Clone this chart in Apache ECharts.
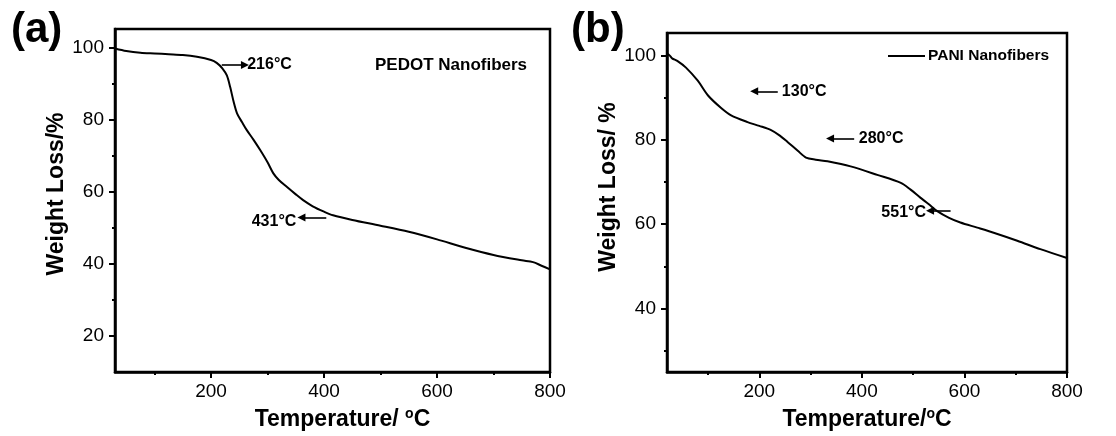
<!DOCTYPE html>
<html>
<head>
<meta charset="utf-8">
<script src="https://cdn.jsdelivr.net/npm/echarts@6/dist/echarts.min.js"></script>
<style>html,body{margin:0;padding:0;background:#fff}#c{width:1116px;height:436px}</style>
</head>
<body>
<div id="c"></div>
<script>
// ---- Data ----
const tempA = [30, 50, 75, 100, 125, 150, 175, 200, 210, 220, 228, 234, 240, 246, 255, 263, 275, 287, 300, 310, 320, 334, 350, 363, 380, 400, 416, 450, 500, 550, 600, 650, 700, 750, 770, 785, 800];
const weightA = [99.8, 99.1, 98.6, 98.4, 98.2, 98.0, 97.5, 96.6, 95.8, 94.3, 92.3, 89.0, 85.0, 81.8, 79.3, 77.2, 74.5, 71.6, 68.2, 65.2, 63.3, 61.4, 59.3, 57.7, 56.0, 54.5, 53.5, 52.2, 50.6, 48.9, 46.8, 44.5, 42.5, 41.0, 40.5, 39.5, 38.5];

const tempB = [20, 25, 30, 40, 57, 80, 100, 125, 145, 177, 200, 223, 240, 255, 275, 291, 310, 333, 378, 430, 476, 495, 514, 530, 547, 570, 592, 625, 657, 703, 748, 800];
const weightB = [100.4, 100.0, 99.3, 98.7, 97.1, 94.0, 90.5, 87.6, 85.8, 84.2, 83.3, 82.3, 81.0, 79.5, 77.4, 75.8, 75.3, 74.9, 73.7, 71.7, 69.8, 68.2, 66.3, 64.8, 63.1, 61.5, 60.4, 59.2, 58.0, 56.1, 54.1, 52.0];

const seriesNameA = 'PEDOT Nanofibers';
const seriesNameB = 'PANI Nanofibers';

// tick values
const xMajorTicks = [200, 400, 600, 800];
const xMinorTicks = [100, 300, 500, 700];
const yMajorTicksA = [20, 40, 60, 80, 100];
const yMinorTicksA = [30, 50, 70, 90];
const yMajorTicksB = [40, 60, 80, 100];
const yMinorTicksB = [30, 50, 70, 90];

// annotations: text (start point in data coords) and arrows (from -> to, data coords)
const annotTextA = ['216°C', '431°C'];
const annotTextXA = [264, 272];
const annotTextYA = [95.2, 51.7];
const arrowsA = [[[219, 95.2], [260, 95.2]], [[404, 52.9], [360, 52.9]]];

const annotTextB = ['130°C', '280°C', '551°C'];
const annotTextXB = [244, 394, 438];
const annotTextYB = [91.5, 80.3, 62.7];
const arrowsB = [[[236, 91.5], [190, 91.5]], [[385, 80.3], [338, 80.3]], [[573, 63.2], [533, 63.2]]];

// ---- Chart ----
const FONT = 'Liberation Sans, Arial, Helvetica, sans-serif';
const chart = echarts.init(document.getElementById('c'), null, {renderer: 'canvas'});

function majorX(grid, min, name, padLeft) {
  return {
    gridIndex: grid, type: 'value', min: min, max: 800, position: 'bottom',
    axisLine: {show: true, lineStyle: {color: '#000', width: 2.5}},
    axisTick: {show: true, customValues: xMajorTicks, length: 6, inside: false, lineStyle: {color: '#000', width: 2}},
    axisLabel: {show: true, customValues: xMajorTicks, fontSize: 19, color: '#000', margin: 10, fontFamily: FONT},
    splitLine: {show: false},
    name: name, nameLocation: 'middle', nameGap: 35,
    nameTextStyle: {fontSize: 23, fontWeight: 'bold', color: '#000', fontFamily: FONT, padding: [0, 0, 0, padLeft],
      rich: {
        n: {fontSize: 23, fontWeight: 'bold', color: '#000', fontFamily: FONT},
        sup: {fontSize: 14, fontWeight: 'bold', color: '#000', fontFamily: FONT, padding: [0, 0, 11, 0]}
      }}
  };
}
function minorX(grid, min) {
  return {
    gridIndex: grid, type: 'value', min: min, max: 800, position: 'bottom',
    axisLine: {show: false},
    axisTick: {show: true, customValues: xMinorTicks, length: 3, inside: false, lineStyle: {color: '#000', width: 2}},
    axisLabel: {show: false}, splitLine: {show: false}
  };
}
function majorY(grid, min, max, ticks, name, padLeft) {
  return {
    gridIndex: grid, type: 'value', min: min, max: max, position: 'left',
    axisLine: {show: true, lineStyle: {color: '#000', width: 2.5}},
    axisTick: {show: true, customValues: ticks, length: 6, inside: false, lineStyle: {color: '#000', width: 2}},
    axisLabel: {show: true, customValues: ticks, fontSize: 19, color: '#000', margin: 11, fontFamily: FONT},
    splitLine: {show: false},
    name: name, nameLocation: 'middle', nameGap: 40, nameRotate: 90,
    nameTextStyle: {fontSize: 23, fontWeight: 'bold', color: '#000', fontFamily: FONT, padding: [0, 0, 0, padLeft]}
  };
}
function minorY(grid, min, max, ticks) {
  return {
    gridIndex: grid, type: 'value', min: min, max: max, position: 'left',
    axisLine: {show: false},
    axisTick: {show: true, customValues: ticks, length: 3, inside: false, lineStyle: {color: '#000', width: 2}},
    axisLabel: {show: false}, splitLine: {show: false}
  };
}
function arrowMarkLine(arrows) {
  return {
    silent: true, animation: false,
    symbol: ['none', 'triangle'], symbolSize: [8, 8],
    lineStyle: {color: '#000', width: 1.6, type: 'solid', opacity: 1},
    itemStyle: {color: '#000'},
    label: {show: false},
    emphasis: {disabled: true},
    data: arrows.map(a => [{coord: a[0]}, {coord: a[1]}])
  };
}
function annotSeries(xi, yi, texts, xs, ys) {
  return {
    type: 'scatter', xAxisIndex: xi, yAxisIndex: yi, symbolSize: 0, silent: true,
    itemStyle: {opacity: 1, color: '#000'},
    data: texts.map((t, i) => ({value: [xs[i], ys[i]], name: t})),
    label: {show: true, position: 'right', distance: 0, formatter: p => p.name, opacity: 1,
      fontSize: 16, fontWeight: 'bold', color: '#000', fontFamily: FONT},
    z: 5
  };
}

const option = {
  animation: false,
  backgroundColor: '#fff',
  textStyle: {fontFamily: FONT},
  title: [
    {text: '(a)', left: 11, top: 9, padding: 0, textStyle: {fontSize: 42, fontWeight: 'bold', color: '#000', fontFamily: FONT}},
    {text: '(b)', left: 571, top: 9, padding: 0, textStyle: {fontSize: 42, fontWeight: 'bold', color: '#000', fontFamily: FONT}},
    {text: seriesNameA, left: 375, top: 57, padding: 0, textStyle: {fontSize: 17, fontWeight: 'bold', color: '#000', fontFamily: FONT}}
  ],
  legend: {
    data: [{name: seriesNameB, icon: 'rect'}], left: 883, top: 43, itemWidth: 37, itemHeight: 2, itemGap: 0,
    itemStyle: {color: '#000', borderWidth: 0},
    textStyle: {fontSize: 15.5, fontWeight: 'bold', color: '#000', fontFamily: FONT, padding: [0, 0, 0, -2]},
    selectedMode: false
  },
  grid: [
    {left: 115, right: 566, top: 29, bottom: 64, show: true, borderColor: '#000', borderWidth: 2.5, backgroundColor: 'transparent'},
    {left: 667, right: 49, top: 33, bottom: 60, show: true, borderColor: '#000', borderWidth: 2.5, backgroundColor: 'transparent'}
  ],
  xAxis: [
    majorX(0, 30, '{n|Temperature/ }{sup|o}{n|C}', 20),
    minorX(0, 30),
    majorX(1, 20, '{n|Temperature/}{sup|o}{n|C}', 0),
    minorX(1, 20)
  ],
  yAxis: [
    majorY(0, 10, 105.2, yMajorTicksA, 'Weight Loss/%', 13),
    minorY(0, 10, 105.2, yMinorTicksA),
    majorY(1, 25, 105.3, yMajorTicksB, 'Weight Loss/ %', 31),
    minorY(1, 25, 105.3, yMinorTicksB)
  ],
  series: [
    {
      name: seriesNameA, type: 'line', xAxisIndex: 0, yAxisIndex: 0,
      data: tempA.map((t, i) => [t, weightA[i]]),
      symbol: 'none', smooth: 0.3, lineStyle: {color: '#000', width: 2}, itemStyle: {color: '#000'},
      markLine: arrowMarkLine(arrowsA)
    },
    {
      name: seriesNameB, type: 'line', xAxisIndex: 2, yAxisIndex: 2,
      data: tempB.map((t, i) => [t, weightB[i]]),
      symbol: 'none', smooth: 0.3, lineStyle: {color: '#000', width: 2}, itemStyle: {color: '#000'},
      markLine: arrowMarkLine(arrowsB)
    },
    annotSeries(0, 0, annotTextA, annotTextXA, annotTextYA),
    annotSeries(2, 2, annotTextB, annotTextXB, annotTextYB)
  ]
};
chart.setOption(option);
</script>
</body>
</html>
